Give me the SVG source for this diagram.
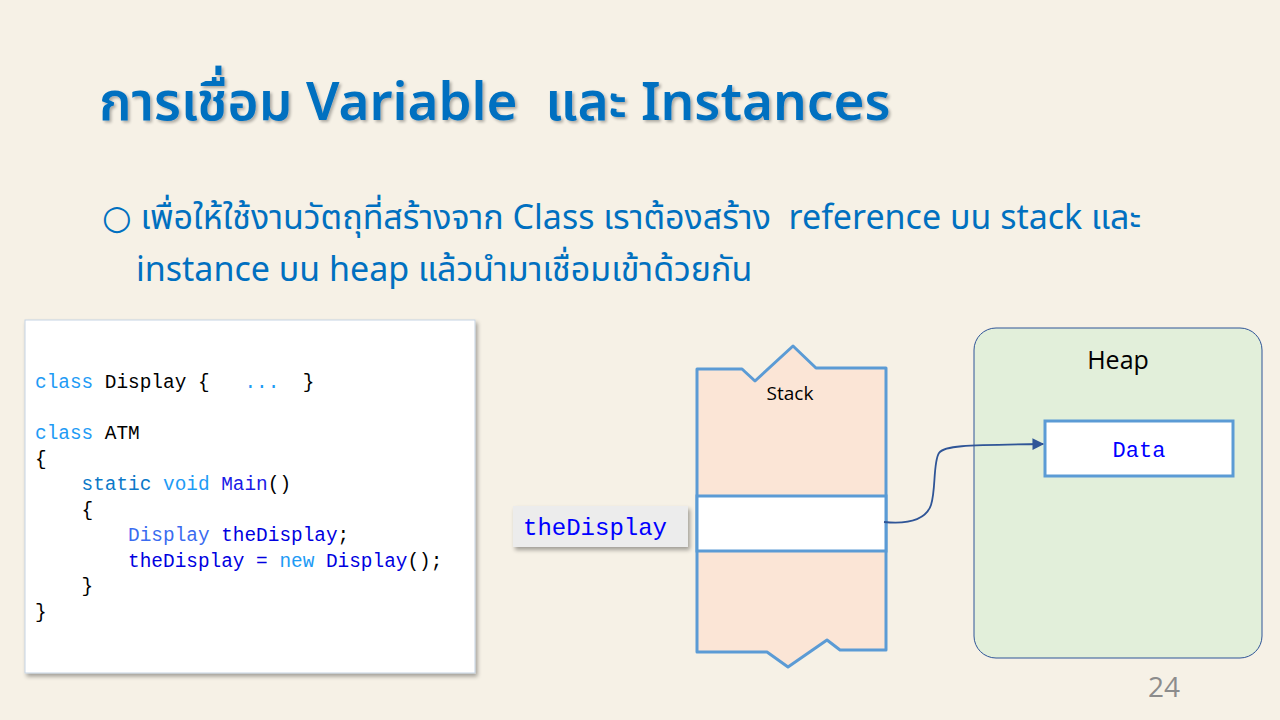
<svg xmlns="http://www.w3.org/2000/svg" width="1280" height="720" viewBox="0 0 1280 720">
  <defs>
    <style>
      .thai { font-family: "Noto Sans", "Noto Sans Thai", "Tahoma", "DejaVu Sans", sans-serif; fill: #0070c0; white-space: pre; }
      .code { font-family: "Liberation Mono", "DejaVu Sans Mono", monospace; font-size: 19.4px; fill: #000; white-space: pre; }
      .kw { fill: #1e9bf5; }
      .kw2 { fill: #0b78c8; }
      .fn { fill: #1a1ae6; }
      .ty { fill: #3b6cf0; }
      .id { fill: #0000e0; }
      .mono-blue { font-family: "Liberation Mono", "DejaVu Sans Mono", monospace; fill: #0000ff; }
      .label { font-family: "Open Sans", "Noto Sans", "Liberation Sans", sans-serif; fill: #000; }
    </style>
    <filter id="softShadow" x="-10%" y="-10%" width="130%" height="130%">
      <feGaussianBlur in="SourceAlpha" stdDeviation="2"/>
      <feOffset dx="2" dy="3" result="b"/>
      <feComponentTransfer><feFuncA type="linear" slope="0.35"/></feComponentTransfer>
      <feMerge><feMergeNode/><feMergeNode in="SourceGraphic"/></feMerge>
    </filter>
    <filter id="titleShadow" x="-5%" y="-20%" width="110%" height="150%">
      <feGaussianBlur in="SourceAlpha" stdDeviation="1.5"/>
      <feOffset dx="2" dy="2" result="b"/>
      <feComponentTransfer><feFuncA type="linear" slope="0.3"/></feComponentTransfer>
      <feMerge><feMergeNode/><feMergeNode in="SourceGraphic"/></feMerge>
    </filter>
    <marker id="arrow" viewBox="0 0 10 10" refX="9" refY="5" markerWidth="7" markerHeight="6.5" orient="auto">
      <path d="M0,0 L10,5 L0,10 Z" fill="#2f5597"/>
    </marker>
  </defs>

  <!-- parchment background -->
  <rect width="1280" height="720" fill="#f6f1e6"/>

  <!-- title -->
  <g id="title" filter="url(#titleShadow)">
    <text class="thai" x="99" y="120" font-size="53" font-weight="600">การเชื่อม Variable  และ Instances</text>
  </g>

  <!-- bullet text -->
  <g id="bullet">
    <text class="thai" x="102" y="229" font-size="34">○ เพื่อให้ใช้งานวัตถุที่สร้างจาก Class เราต้องสร้าง  reference บน stack และ</text>
    <text class="thai" x="136" y="281" font-size="34">instance บน heap แล้วนำมาเชื่อมเข้าด้วยกัน</text>
  </g>

  <!-- code listing -->
  <g id="code-box">
    <rect x="25" y="320" width="450" height="353" fill="#ffffff" stroke="#c5d3e3" stroke-width="1" filter="url(#softShadow)"/>
    <text class="code" x="35" y="388"><tspan class="kw">class</tspan> Display {   <tspan class="kw">...</tspan>  }</text>
    <text class="code" x="35" y="439"><tspan class="kw">class</tspan> ATM</text>
    <text class="code" x="35" y="465">{</text>
    <text class="code" x="35" y="490">    <tspan class="kw2">static</tspan> <tspan class="kw">void</tspan> <tspan class="fn">Main</tspan>()</text>
    <text class="code" x="35" y="516">    {</text>
    <text class="code" x="35" y="541">        <tspan class="ty">Display</tspan> <tspan class="id">theDisplay</tspan>;</text>
    <text class="code" x="35" y="567">        <tspan class="id">theDisplay</tspan> <tspan class="id">=</tspan> <tspan class="kw">new</tspan> <tspan class="id">Display</tspan>();</text>
    <text class="code" x="35" y="592">    }</text>
    <text class="code" x="35" y="618">}</text>
  </g>

  <!-- stack -->
  <g id="stack">
    <path d="M697,369 L742,369 L755,381 L793,346 L816,368 L886,368 L886,650 L840,650 L827,640 L788,667 L767,652 L697,652 Z"
          fill="#fbe5d6" stroke="#5b9bd5" stroke-width="3" stroke-linejoin="round"/>
    <rect x="697" y="496" width="189" height="55" fill="#ffffff" stroke="#5b9bd5" stroke-width="3"/>
    <text class="label" x="790" y="400" font-size="19" text-anchor="middle">Stack</text>
  </g>

  <!-- variable label -->
  <g id="var-label">
    <rect x="513" y="506" width="175" height="41" fill="#ececec" filter="url(#softShadow)"/>
    <text class="mono-blue" x="523" y="535" font-size="24">theDisplay</text>
  </g>

  <!-- heap -->
  <g id="heap">
    <rect x="974" y="328" width="288" height="330" rx="22" ry="22" fill="#e2efda" stroke="#2f5597" stroke-width="1"/>
    <text class="label" x="1118" y="369" font-size="25" text-anchor="middle">Heap</text>
  </g>

  <!-- object on heap -->
  <g id="data">
    <rect x="1045" y="421" width="188" height="55" fill="#ffffff" stroke="#5b9bd5" stroke-width="3"/>
    <text class="mono-blue" x="1139" y="457" font-size="22" text-anchor="middle">Data</text>
  </g>

  <!-- reference connector -->
  <g id="connectors">
    <path d="M884,522 C905,524 925,522 931,505 C936,490 933,462 939,453 C944,446 960,445 1043,444"
          fill="none" stroke="#2f5597" stroke-width="1.8" marker-end="url(#arrow)"/>
  </g>

  <!-- slide number -->
  <text x="1164" y="697" font-family="Open Sans, Liberation Sans, sans-serif" font-size="28" fill="#8c8c8c" text-anchor="middle">24</text>
</svg>
